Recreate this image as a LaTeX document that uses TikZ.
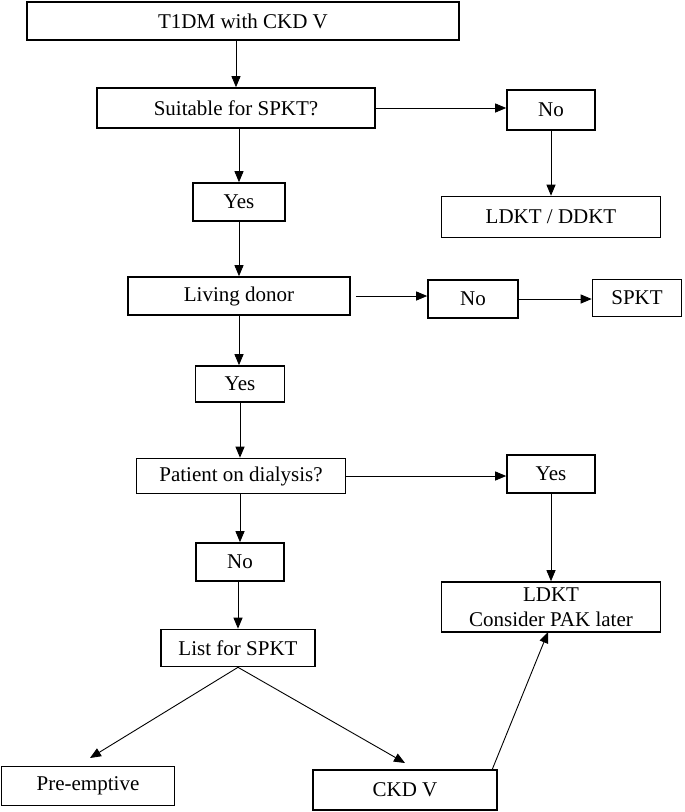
\documentclass[tikz,border=0pt]{standalone}
\usepackage{fontspec}
\setmainfont{Liberation Serif}
\usetikzlibrary{arrows.meta}
\begin{document}
\begin{tikzpicture}[x=1pt,y=-1pt,
  box/.style={draw, line width=1.6pt, inner sep=0pt, align=center, font=\fontsize{21}{25}\selectfont},
  arr/.style={line width=0.9pt, -{Triangle[length=11pt,width=9pt]}}]
\useasboundingbox (0,0) rectangle (685,812);
\node[box, minimum width=432pt, minimum height=38pt] (t1) at (243,21) {T1DM with CKD V};
\node[box, minimum width=278pt, minimum height=40pt] (suit) at (236,108) {Suitable for SPKT?};
\node[box, minimum width=88pt, minimum height=40pt] (no1) at (551,110) {No};
\node[box, minimum width=92pt, minimum height=38pt] (yes1) at (239,202) {Yes};
\node[box, minimum width=219pt, minimum height=41pt] (lddd) at (551,217) {LDKT / DDKT};
\node[box, minimum width=222pt, minimum height=38pt] (live) at (239,296) {Living donor};
\node[box, minimum width=90pt, minimum height=38pt] (no2) at (473,299) {No};
\node[box, minimum width=89pt, minimum height=37pt] (spkt) at (637,298) {SPKT};
\node[box, minimum width=89pt, minimum height=36pt] (yes2) at (240,384) {Yes};
\node[box, minimum width=209pt, minimum height=35pt] (dial) at (241,476) {Patient on dialysis?};
\node[box, minimum width=88pt, minimum height=38pt] (yes3) at (551,474) {Yes};
\node[box, minimum width=88pt, minimum height=38pt] (no3) at (240,562) {No};
\node[box, minimum width=219pt, minimum height=50pt] (ldkt) at (551,607) {LDKT\\Consider PAK later};
\node[box, minimum width=154pt, minimum height=37pt] (list) at (238,648) {List for SPKT};
\node[box, minimum width=173pt, minimum height=39pt] (pre) at (88,786) {Pre-emptive};
\node[box, minimum width=184pt, minimum height=40pt] (ckd) at (405,790) {CKD V};
\coordinate (preTip) at (90,758);
\coordinate (ckdTip) at (405,763);
\coordinate (ckdOut) at (492,770);
\coordinate (ldktIn) at (548,632);
\draw[arr] (t1.south -| suit) -- (suit.north);
\draw[arr] (suit.east) -- (suit.east -| no1.west);
\draw[arr] (no1.south) -- (lddd.north);
\draw[arr] (suit.south -| yes1) -- (yes1.north);
\draw[arr] (yes1.south) -- (yes1.south |- live.north);
\draw[arr] ([xshift=5pt]live.east) -- (live.east -| no2.west);
\draw[arr] (no2.east) -- (no2.east -| spkt.west);
\draw[arr] (live.south) -- (live.south |- yes2.north);
\draw[arr] (yes2.south) -- (yes2.south |- dial.north);
\draw[arr] (dial.east) -- (dial.east -| yes3.west);
\draw[arr] (yes3.south) -- (ldkt.north);
\draw[arr] (dial.south -| no3) -- (no3.north);
\draw[arr] (no3.south -| list) -- (list.north);
\draw[arr] (list.south) -- (preTip);
\draw[arr] (list.south) -- (ckdTip);
\draw[arr] (ckdOut) -- (ldktIn);
\end{tikzpicture}
\end{document}
